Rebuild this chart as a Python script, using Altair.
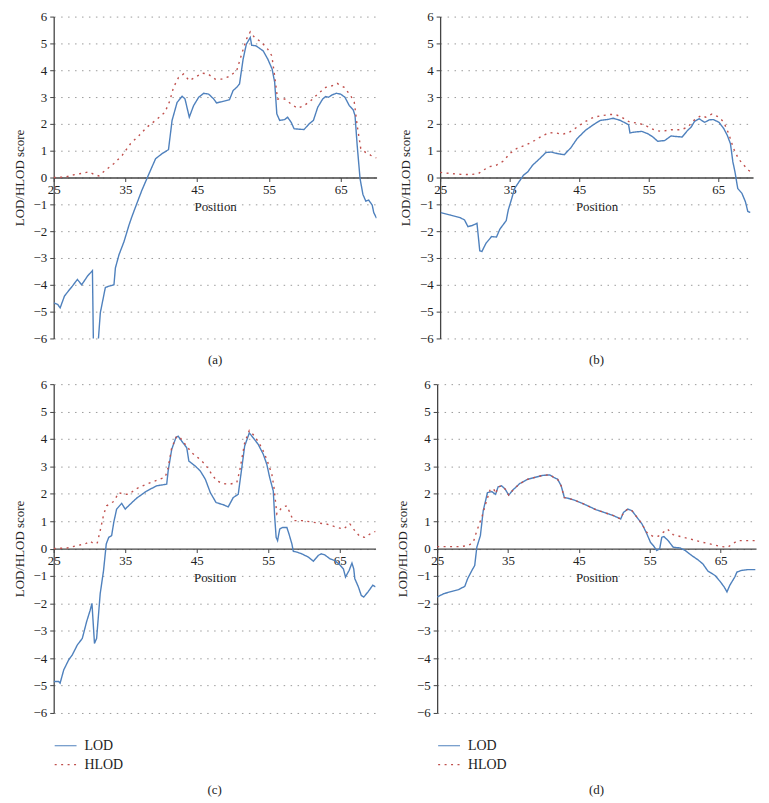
import altair as alt
import pandas as pd

FONT = "Liberation Serif"
BLUE = "#4F81BD"
RED = "#C0504D"

SERIES = ["LOD", "HLOD"]
X_TICKS = [25, 35, 45, 55, 65]
Y_TICKS = [-6, -5, -4, -3, -2, -1, 0, 1, 2, 3, 4, 5, 6]
PANEL_LABELS = ["(a)", "(b)", "(c)", "(d)"]

# ---- panel (a) ----
A_LOD = [(25, -4.67), (25.55, -4.73), (25.9, -4.86), (26.5, -4.42), (27.2, -4.18), (27.6, -4.05),
         (28.3, -3.8), (28.9, -4.0), (29.7, -3.68), (30.4, -3.47), (30.6, -7.5), (31.1, -6.5),
         (31.5, -5.04), (32.2, -4.1), (32.7, -4.05), (33.4, -4.0), (33.6, -3.37), (34.1, -2.88),
         (34.8, -2.39), (35.5, -1.77), (35.9, -1.46), (36.6, -0.96), (37.3, -0.47), (38.2, 0.09),
         (39.2, 0.70), (40.1, 0.89), (41.0, 1.04), (41.5, 2.13), (42.2, 2.8), (42.9, 3.03),
         (43.3, 2.93), (43.9, 2.25), (44.5, 2.68), (45.2, 2.99), (45.9, 3.14), (46.6, 3.11),
         (47.3, 2.93), (47.7, 2.78), (48.6, 2.84), (49.5, 2.9), (50.0, 3.24), (50.5, 3.36),
         (50.9, 3.49), (51.4, 4.41), (51.85, 4.97), (52.4, 5.22), (52.6, 4.93), (53.2, 4.91),
         (54.2, 4.72), (54.85, 4.41), (55.45, 4.04), (55.8, 3.55), (56.1, 2.37), (56.5, 2.13),
         (57.2, 2.16), (57.6, 2.25), (58.1, 2.06), (58.5, 1.82), (59.2, 1.80), (59.9, 1.79),
         (60.6, 2.0), (61.2, 2.13), (61.8, 2.62), (62.5, 2.93), (62.9, 3.02), (63.3, 2.99),
         (63.8, 3.08), (64.4, 3.14), (65.0, 3.11), (65.6, 2.99), (66.2, 2.68), (66.75, 2.52),
         (67.0, 2.31), (67.3, 1.2), (67.7, -0.04), (68.1, -0.63), (68.5, -0.88), (68.9, -0.84),
         (69.4, -1.03), (69.6, -1.3), (70.0, -1.52)]
A_HLOD = [(25, 0.0), (26.7, 0.02), (27.6, 0.09), (28.8, 0.15), (29.9, 0.21), (30.6, 0.12),
          (31.3, 0.06), (32.2, 0.27), (33.4, 0.52), (34.55, 0.83), (35.7, 1.26), (36.9, 1.57),
          (38.0, 1.88), (39.2, 2.13), (40.5, 2.43), (41.2, 2.87), (41.7, 3.36), (42.4, 3.73),
          (43.1, 3.86), (43.9, 3.61), (44.7, 3.73), (45.7, 3.89), (46.5, 3.86), (47.5, 3.67),
          (48.4, 3.67), (49.5, 3.77), (50.5, 3.98), (51.2, 4.60), (51.85, 5.15), (52.4, 5.43),
          (53.0, 5.22), (53.9, 5.06), (54.85, 4.78), (55.4, 4.54), (55.8, 3.79), (56.2, 2.93),
          (57.2, 2.93), (58.1, 2.74), (59.0, 2.58), (59.9, 2.68), (60.85, 2.87), (61.8, 3.11),
          (62.9, 3.36), (63.8, 3.42), (64.5, 3.51), (65.5, 3.36), (66.4, 3.05), (66.9, 2.8),
          (67.3, 1.94), (67.8, 1.08), (68.5, 0.93), (69.2, 0.83), (70.0, 0.73)]

# ---- panel (b) ----
B_LOD = [(25.1, -1.31), (26.5, -1.40), (27.9, -1.50), (28.5, -1.58), (29.0, -1.83), (29.6, -1.79),
         (30.3, -1.71), (30.7, -2.73), (31.0, -2.76), (31.6, -2.45), (32.4, -2.2), (33.1, -2.22),
         (33.6, -1.92), (34.5, -1.61), (34.8, -1.21), (35.3, -0.78), (35.7, -0.41), (36.45, -0.12),
         (37.0, 0.09), (37.6, 0.21), (38.3, 0.46), (39.3, 0.70), (40.2, 0.93), (40.95, 0.95),
         (41.9, 0.89), (42.85, 0.85), (43.8, 1.11), (44.7, 1.45), (45.9, 1.76), (47.1, 1.98),
         (48.05, 2.13), (49.0, 2.16), (49.9, 2.21), (50.9, 2.13), (52.1, 1.97), (52.3, 1.66),
         (52.8, 1.69), (54.0, 1.72), (54.9, 1.63), (55.6, 1.51), (56.3, 1.35), (57.3, 1.38),
         (58.2, 1.55), (58.9, 1.53), (59.8, 1.51), (60.6, 1.76), (61.1, 1.88), (61.6, 2.1),
         (62.25, 2.19), (62.6, 2.13), (63.05, 2.06), (63.7, 2.15), (64.3, 2.16), (65.1, 2.06),
         (65.8, 1.82), (66.3, 1.57), (66.75, 1.26), (67.1, 0.58), (67.4, 0.21), (67.8, -0.41),
         (68.4, -0.59), (68.9, -0.9), (69.25, -1.27), (69.6, -1.3)]
B_HLOD = [(25, 0.19), (26.5, 0.15), (27.9, 0.12), (29.4, 0.11), (30.5, 0.15), (31.2, 0.27),
          (32.0, 0.40), (33.1, 0.46), (34.1, 0.61), (35.0, 0.89), (36.0, 1.08), (37.4, 1.22),
          (38.6, 1.38), (39.8, 1.57), (40.7, 1.67), (41.7, 1.66), (42.6, 1.61), (43.6, 1.69),
          (44.7, 1.88), (45.9, 2.09), (47.1, 2.25), (48.3, 2.31), (49.5, 2.35), (50.2, 2.35),
          (51.1, 2.25), (52.3, 2.06), (53.5, 2.03), (54.7, 1.92), (55.9, 1.76), (56.8, 1.72),
          (58.2, 1.78), (59.65, 1.78), (60.6, 1.88), (61.5, 2.13), (62.5, 2.31), (63.2, 2.25),
          (64.1, 2.37), (65.1, 2.25), (65.8, 2.06), (66.5, 1.63), (67.2, 1.08), (67.9, 0.70),
          (68.6, 0.48), (69.35, 0.27), (69.7, 0.21)]

# ---- panel (c) ----
C_LOD = [(25, -4.85), (25.7, -4.85), (25.9, -4.91), (26.4, -4.43), (27.1, -4.06), (27.6, -3.88),
         (28.3, -3.52), (29.0, -3.28), (29.6, -2.67), (30.1, -2.25), (30.35, -2.0), (30.7, -3.46),
         (31.0, -3.28), (31.5, -1.65), (31.97, -0.8), (32.35, 0.17), (32.7, 0.41), (33.1, 0.47),
         (33.4, 0.96), (33.8, 1.44), (34.5, 1.65), (35.0, 1.44), (35.7, 1.62), (36.6, 1.84),
         (38.0, 2.1), (39.4, 2.29), (40.8, 2.35), (41.0, 2.83), (41.5, 3.62), (42.1, 4.06),
         (42.4, 4.1), (42.9, 3.92), (43.6, 3.68), (43.9, 3.19), (44.8, 3.01), (45.5, 2.83),
         (46.2, 2.53), (46.9, 2.04), (47.7, 1.68), (48.7, 1.60), (49.4, 1.52), (50.1, 1.86),
         (50.8, 1.98), (51.3, 2.95), (51.7, 3.74), (52.35, 4.22), (52.9, 4.04), (53.6, 3.80),
         (54.3, 3.44), (54.8, 3.07), (55.2, 2.59), (55.7, 2.1), (55.9, 1.14), (56.1, 0.41),
         (56.3, 0.29), (56.6, 0.71), (57.0, 0.77), (57.6, 0.77), (57.9, 0.53), (58.3, 0.17),
         (58.5, -0.10), (59.0, -0.13), (59.65, -0.19), (60.6, -0.31), (61.3, -0.46), (62.0, -0.25),
         (62.4, -0.19), (62.9, -0.23), (63.6, -0.37), (64.3, -0.44), (65.0, -0.59), (65.5, -0.74),
         (65.8, -1.04), (66.3, -0.80), (66.7, -0.53), (66.95, -0.74), (67.1, -1.10), (67.6, -1.40),
         (68.0, -1.71), (68.35, -1.77), (68.95, -1.58), (69.6, -1.34), (70.0, -1.40)]
C_HLOD = [(25, 0.0), (26.9, 0.02), (28.3, 0.11), (29.4, 0.17), (30.1, 0.27), (30.6, 0.17),
          (31.1, 0.21), (31.5, 0.65), (32.0, 1.26), (32.4, 1.56), (33.4, 1.72), (34.1, 2.04),
          (34.8, 1.98), (35.5, 1.98), (36.6, 2.19), (38.0, 2.35), (39.4, 2.49), (40.6, 2.61),
          (41.0, 2.95), (41.5, 3.68), (42.2, 4.10), (42.7, 4.04), (43.4, 3.80), (44.3, 3.50),
          (45.2, 3.31), (46.2, 3.07), (47.1, 2.71), (47.8, 2.47), (48.7, 2.37), (49.65, 2.35),
          (50.6, 2.41), (51.0, 2.83), (51.7, 3.86), (52.35, 4.31), (53.1, 4.10), (54.1, 3.68),
          (54.8, 3.25), (55.5, 2.71), (55.8, 2.23), (56.2, 1.26), (56.9, 1.50), (57.6, 1.56),
          (58.0, 1.32), (58.5, 1.02), (59.65, 1.02), (60.8, 0.98), (62.0, 0.93), (63.1, 0.90),
          (64.3, 0.80), (65.5, 0.71), (66.4, 0.90), (67.1, 0.65), (67.8, 0.44), (68.5, 0.41),
          (69.2, 0.53), (70.0, 0.63)]

# ---- panel (d) ----
D_LOD = [(25, -1.77), (25.9, -1.65), (27.1, -1.56), (28.0, -1.50), (28.9, -1.38), (29.3, -1.10),
         (29.9, -0.80), (30.3, -0.62), (30.6, 0.05), (31.1, 0.47), (31.5, 1.38), (32.1, 2.04),
         (32.7, 2.08), (33.25, 1.98), (33.6, 2.25), (34.1, 2.29), (34.6, 2.17), (35.1, 1.95),
         (35.7, 2.14), (36.65, 2.37), (37.8, 2.53), (39.0, 2.61), (39.9, 2.67), (40.85, 2.69),
         (41.5, 2.59), (42.0, 2.53), (42.5, 2.29), (42.95, 1.86), (43.4, 1.84), (44.35, 1.77),
         (45.75, 1.62), (47.4, 1.42), (49.0, 1.28), (49.9, 1.20), (50.9, 1.08), (51.3, 1.32),
         (51.9, 1.44), (52.5, 1.38), (53.2, 1.14), (53.9, 0.90), (54.5, 0.59), (55.1, 0.23),
         (55.5, 0.11), (56.0, -0.07), (56.4, -0.01), (56.7, 0.41), (57.0, 0.44), (57.6, 0.29),
         (58.3, 0.05), (59.3, 0.02), (60.0, -0.07), (60.9, -0.25), (61.8, -0.41), (62.5, -0.56),
         (63.2, -0.82), (64.2, -0.98), (64.9, -1.19), (65.5, -1.40), (65.9, -1.58), (66.3, -1.34),
         (67.0, -1.04), (67.3, -0.86), (67.9, -0.80), (68.8, -0.77), (69.9, -0.77)]
D_HLOD = [(25, 0.07), (26.6, 0.07), (28.3, 0.07), (29.4, 0.11), (30.1, 0.23), (30.6, 0.65),
          (31.3, 1.14), (31.9, 1.68), (32.5, 2.17), (33.0, 2.17), (33.25, 2.0), (33.6, 2.25),
          (34.1, 2.29), (34.6, 2.17), (35.1, 1.95), (35.7, 2.14), (36.65, 2.37), (37.8, 2.53),
          (39.0, 2.61), (39.9, 2.67), (40.85, 2.69), (41.5, 2.59), (42.0, 2.53), (42.5, 2.29),
          (42.95, 1.86), (43.4, 1.84), (44.35, 1.77), (45.75, 1.62), (47.4, 1.42), (49.0, 1.28),
          (49.9, 1.20), (50.9, 1.08), (51.3, 1.32), (51.9, 1.44), (52.5, 1.38), (53.2, 1.14),
          (53.9, 0.90), (54.5, 0.62), (54.8, 0.53), (55.5, 0.44), (56.2, 0.45), (56.9, 0.59),
          (57.5, 0.71), (58.3, 0.51), (59.3, 0.44), (60.7, 0.35), (62.1, 0.25), (63.5, 0.17),
          (64.9, 0.08), (66.0, 0.05), (66.7, 0.17), (67.4, 0.29), (68.6, 0.29), (69.9, 0.29)]

FS = 13


def panel(lod, hlod, label, w, h, show_legend):
    rows = [(x, y, "LOD") for x, y in lod] + [(x, y, "HLOD") for x, y in hlod]
    df = pd.DataFrame(rows, columns=["pos", "score", "series"])
    if show_legend:
        legend = alt.Legend(title=None, orient="none", legendX=0, legendY=h + 21,
                            direction="vertical", symbolType="stroke", symbolSize=484,
                            symbolStrokeWidth=1.2, labelFontSize=FS + 1, labelFont=FONT,
                            labelColor="#222", labelOffset=7, rowPadding=-5)
        toff = 13
    else:
        legend = None
        toff = 9
    return alt.Chart(
        df,
        title=alt.TitleParams(label, orient="bottom", fontSize=FS, font=FONT,
                              fontWeight="normal", color="#222", offset=toff),
    ).mark_line(clip=True, strokeWidth=1.4).encode(
        x=alt.X("pos:Q",
                scale=alt.Scale(domain=[25, 70], nice=False, zero=False),
                axis=alt.Axis(values=X_TICKS, offset=-h / 2, title="Position", grid=False,
                              labelFlush=False, labelFontSize=FS, titleFontSize=FS,
                              titleFontWeight="normal", titlePadding=4, tickSize=4,
                              domainColor="#444", tickColor="#444", domainWidth=1.3)),
        y=alt.Y("score:Q",
                scale=alt.Scale(domain=[-6, 6], nice=False, zero=False),
                axis=alt.Axis(values=Y_TICKS, title="LOD/HLOD score", grid=True,
                              gridDash=[1.5, 5.5], gridColor="#9a9a9a", gridWidth=1,
                              labelFontSize=FS, titleFontSize=FS, titleFontWeight="normal",
                              tickSize=4, labelPadding=3, titlePadding=7,
                              domainColor="#444", tickColor="#444", domainWidth=1.3)),
        color=alt.Color("series:N", scale=alt.Scale(domain=SERIES, range=[BLUE, RED]),
                        legend=legend),
        strokeDash=alt.StrokeDash("series:N",
                                  scale=alt.Scale(domain=SERIES, range=[[1, 0], [2, 4.5]]),
                                  legend=legend),
        strokeWidth=alt.StrokeWidth("series:N",
                                    scale=alt.Scale(domain=SERIES, range=[1.3, 2.2]),
                                    legend=None),
    ).properties(width=w, height=h)


pa = panel(A_LOD, A_HLOD, PANEL_LABELS[0], 325, 324, False)
pb = panel(B_LOD, B_HLOD, PANEL_LABELS[1], 315, 324, False)
pc = panel(C_LOD, C_HLOD, PANEL_LABELS[2], 324, 331, True)
pd_ = panel(D_LOD, D_HLOD, PANEL_LABELS[3], 321, 331, True)

top = alt.hconcat(pa, pb, spacing=23).resolve_legend(color="independent", strokeDash="independent")
bottom = alt.hconcat(pc, pd_, spacing=21).resolve_legend(color="independent", strokeDash="independent")

chart = alt.vconcat(top, bottom, spacing=11).resolve_legend(
    color="independent", strokeDash="independent"
).properties(
    padding={"left": 5, "top": 0, "right": 5, "bottom": 5}
).configure(font=FONT).configure_view(stroke=None).configure_axis(
    labelColor="#222", titleColor="#222", labelFont=FONT, titleFont=FONT
)

chart.save("out.html", embed_options={"renderer": "svg", "actions": False})
